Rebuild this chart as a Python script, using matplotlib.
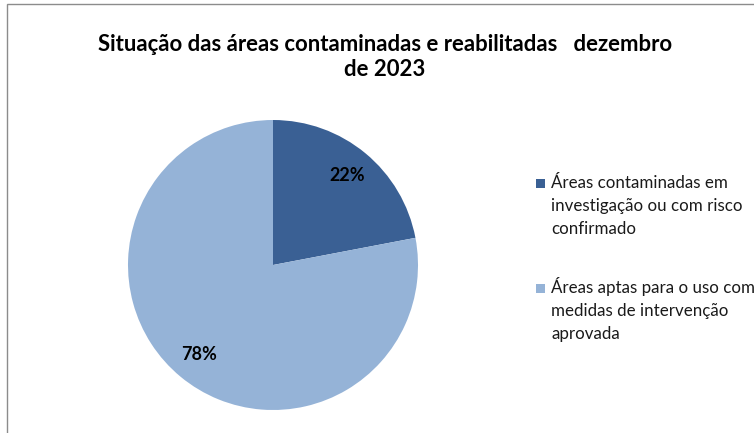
import matplotlib
matplotlib.use("Agg")
import matplotlib.pyplot as plt
from matplotlib.patches import Rectangle

plt.rcParams['font.family'] = ['Lato', 'DejaVu Sans']

title = "Situação das áreas contaminadas e reabilitadas   dezembro\nde 2023"
categories = ["Áreas contaminadas em\ninvestigação ou com risco\nconfirmado",
              "Áreas aptas para o uso com\nmedidas de intervenção\naprovada"]
values = [22, 78]
colors = ["#3A6094", "#95B3D7"]

W, H = 754, 433
fig = plt.figure(figsize=(W / 100, H / 100), dpi=100)
fig.patch.set_facecolor("white")

def fx(px):
    return px / W

def fy(py):
    return 1 - py / H

# chart frame
fig.add_artist(Rectangle((fx(7), -0.1), 1.2, fy(4) + 0.1, transform=fig.transFigure,
                         fill=False, edgecolor="#8C8C8C", linewidth=1.0))

cx, cy, r = 273, 265, 145
ax = fig.add_axes([fx(cx - r), fy(cy + r), 2 * r / W, 2 * r / H])
wedges, texts, autotexts = ax.pie(values, colors=colors, startangle=90, counterclock=False,
                                  autopct=lambda p: f"{p:.0f}%", pctdistance=0.8,
                                  wedgeprops=dict(linewidth=0),
                                  textprops=dict(fontsize=13, fontweight="bold", color="black"))
ax.set_xlim(-1, 1)
ax.set_ylim(-1, 1)
ax.set_aspect("equal")
ax.axis("off")

fig.text(fx(385), fy(57), title, ha="center", va="center", fontsize=15.9,
         fontweight="bold", linespacing=1.2)

# legend (entries drawn from wedges / categories)
for i, (w, cat) in enumerate(zip(wedges, categories)):
    base = 188 + 105 * i
    fig.add_artist(Rectangle((fx(536), fy(base)), 9 / W, 9 / H, transform=fig.transFigure,
                             facecolor=w.get_facecolor(), edgecolor="none"))
    for j, line in enumerate(cat.split("\n")):
        fig.text(fx(551), fy(base + 23 * j), line, ha="left", va="baseline",
                 fontsize=12.2, color="#1a1a1a")

fig.savefig("out.png", dpi=100)
